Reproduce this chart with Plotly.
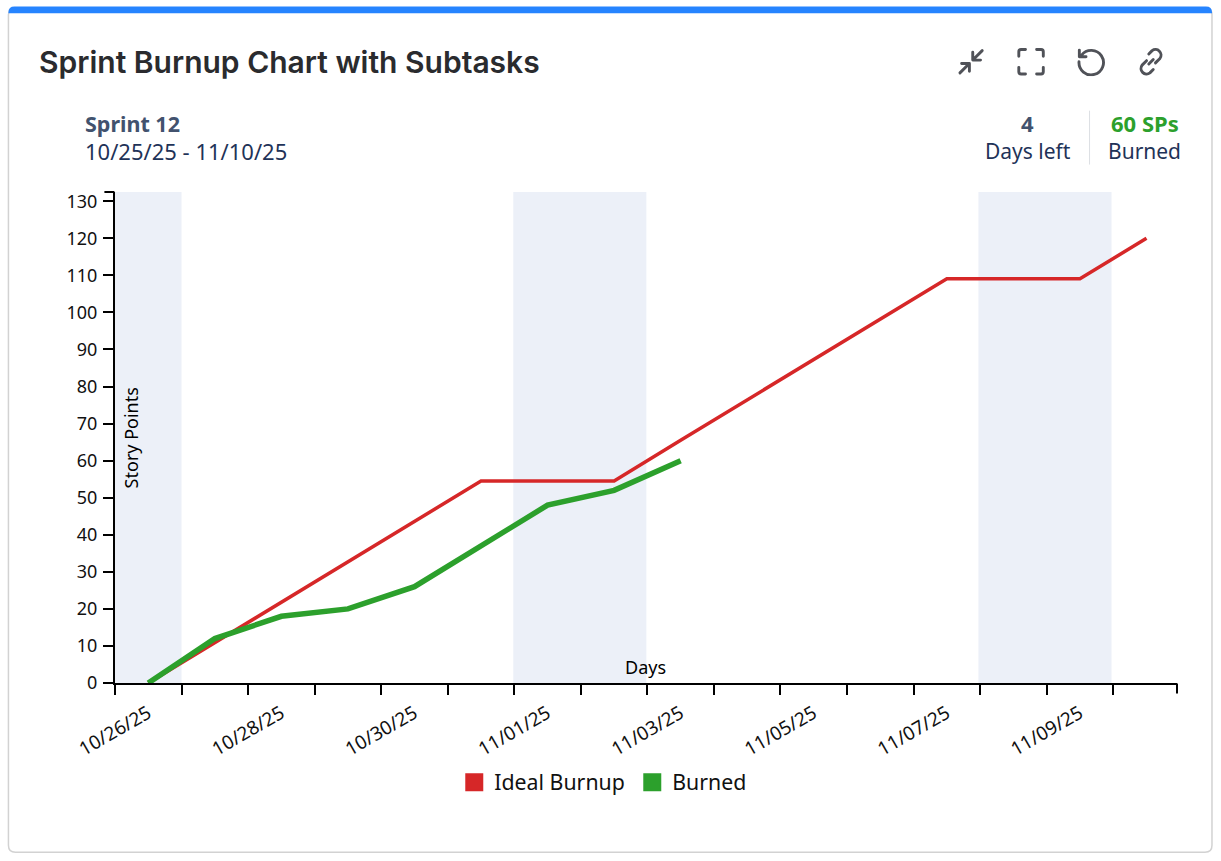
import base64
import plotly.graph_objects as go

days = ["2025-10-26 12:00", "2025-10-27 12:00", "2025-10-28 12:00", "2025-10-29 12:00",
        "2025-10-30 12:00", "2025-10-31 12:00", "2025-11-01 12:00", "2025-11-02 12:00",
        "2025-11-03 12:00", "2025-11-04 12:00", "2025-11-05 12:00", "2025-11-06 12:00",
        "2025-11-07 12:00", "2025-11-08 12:00", "2025-11-09 12:00", "2025-11-10 12:00"]
ideal = [0, 10.9, 21.8, 32.7, 43.6, 54.5, 54.5, 54.5, 65.5, 76.4, 87.3, 98.2, 109.1, 109.1, 109.1, 120]
burned = [0, 12, 18, 20, 26, 37, 48, 52, 60]
weekends = [("2025-10-26 00:00", "2025-10-27 00:00"),
            ("2025-10-31 23:38", "2025-11-02 23:38"),
            ("2025-11-07 23:23", "2025-11-09 23:23")]
RED, GREEN = "#d62728", "#2ca02c"
FONT = "Noto Sans"

W, H = 1221, 861
L, R, T, B = 114.6, 1177, 191.5, 683.5
px = lambda x: (x - L) / (R - L)
py = lambda y: (B - y) / (B - T)


def rrect(x0, y0, x1, y1, r):
    c = lambda x, y: f"{px(x)} {py(y)}"
    return (f"M {c(x0 + r, y0)} L {c(x1 - r, y0)} Q {c(x1, y0)} {c(x1, y0 + r)} "
            f"L {c(x1, y1 - r)} Q {c(x1, y1)} {c(x1 - r, y1)} L {c(x0 + r, y1)} "
            f"Q {c(x0, y1)} {c(x0, y1 - r)} L {c(x0, y0 + r)} Q {c(x0, y0)} {c(x0 + r, y0)} Z")


def topbar(x0, y0, x1, y1, r):
    c = lambda x, y: f"{px(x)} {py(y)}"
    return (f"M {c(x0, y1)} L {c(x0, y0 + r)} Q {c(x0, y0)} {c(x0 + r, y0)} "
            f"L {c(x1 - r, y0)} Q {c(x1, y0)} {c(x1, y0 + r)} L {c(x1, y1)} Z")


fig = go.Figure()
fig.add_trace(go.Scatter(x=days, y=ideal, mode="lines", showlegend=False,
                         line=dict(color=RED, width=3.5), hoverinfo="skip"))
fig.add_trace(go.Scatter(x=days[:len(burned)], y=burned, mode="lines", showlegend=False,
                         line=dict(color=GREEN, width=5.5), hoverinfo="skip"))
for name, col in (("Ideal Burnup", RED), ("Burned", GREEN)):
    fig.add_trace(go.Scatter(x=[None], y=[None], mode="markers", name=name,
                             marker=dict(symbol="square", size=16, color=col,
                                         line=dict(color=col, width=2))))

shapes = [
    dict(type="path", xref="paper", yref="paper", path=rrect(8, 7, 1212, 853, 7),
         fillcolor="#ffffff", line=dict(color="#d2d2d2", width=1.5), layer="below"),
    dict(type="path", xref="paper", yref="paper", path=topbar(8, 5.5, 1212, 12.5, 6),
         fillcolor="#2684ff", line=dict(width=0), layer="below"),
    dict(type="line", xref="paper", yref="paper", x0=px(1089.5), x1=px(1089.5), y0=py(110), y1=py(164),
         line=dict(color="#dcdfe4", width=1)),
    dict(type="line", xref="paper", yref="paper", x0=px(104), x1=px(114), y0=1, y1=1,
         line=dict(color="#000", width=2)),
    dict(type="line", xref="paper", yref="paper", x0=1, x1=1, y0=py(684), y1=py(694),
         line=dict(color="#000", width=2)),
]
for a, b in weekends:
    shapes.append(dict(type="rect", xref="x", yref="paper", x0=a, x1=b, y0=0, y1=1,
                       fillcolor="#ecf0f8", line=dict(width=0), layer="below"))


def note(x, y, text, size=22, color="#172b4d", anchor="left", weight=400, angle=0, family=FONT):
    return dict(xref="paper", yref="paper", x=px(x), y=py(y), text=text, showarrow=False,
                xanchor=anchor, yanchor="middle", textangle=angle,
                font=dict(family=family, size=size, color=color, weight=weight))


annotations = [
    note(37, 61, "Sprint Burnup Chart with Subtasks", size=30, color="#2a2b2e", weight=600, family="Inter"),
    note(83, 123, "Sprint 12", size=21.5, color="#42526e", weight=700),
    note(83, 150.5, "10/25/25 - 11/10/25", size=22, color="#1f3358"),
    note(1027.5, 122.5, "4", color="#42526e", weight=700, anchor="center"),
    note(1027.5, 150.5, "Days left", size=21, color="#1f3358", anchor="center"),
    note(1145, 122.5, "60 SPs", color=GREEN, weight=700, anchor="center"),
    note(1144.5, 150.5, "Burned", size=21, color="#1f3358", anchor="center"),
    note(131, 438, "Story Points", size=18, color="#000", anchor="center", angle=-90),
    note(645.5, 667, "Days", size=18, color="#000", anchor="center"),
]

ICONS = {
    971: '<path d="M3 23 L11 15 M4.5 14.5 H11.5 V21.5 M23 3 L15 11 M14.5 4.5 V11.5 H21.5"/>',
    1031: '<path d="M2 8 V4 Q2 2 4 2 H8 M18 2 H22 Q24 2 24 4 V8 M24 18 V22 Q24 24 22 24 H18 M8 24 H4 Q2 24 2 22 V18"/>',
    1091: '<path d="M4.5 7 A11 11 0 1 1 2.2 13 M2.5 2.5 V8.5 H8.5"/>',
    1151: '<path d="M11 15 L15 11 M9 12 L5 16 A5 5 0 0 0 12 23 L15 20 M17 14 L21 10 A5 5 0 0 0 14 3 L11 6"/>',
}
images = []
for cx, body in ICONS.items():
    svg = ('<svg xmlns="http://www.w3.org/2000/svg" width="26" height="26" viewBox="0 0 26 26">'
           '<g fill="none" stroke="#505258" stroke-width="2.6" stroke-linecap="round" stroke-linejoin="round">'
           + body + '</g></svg>')
    src = "data:image/svg+xml;base64," + base64.b64encode(svg.encode()).decode()
    images.append(dict(source=src, xref="paper", yref="paper", x=px(cx - 14.5), y=py(46.5), sizex=29 / (R - L),
                       sizey=29 / (B - T), xanchor="left", yanchor="top", layer="above"))

fig.update_layout(
    width=W, height=H, autosize=False,
    margin=dict(l=L, r=W - R, t=T, b=H - B),
    paper_bgcolor="#ffffff", plot_bgcolor="rgba(0,0,0,0)",
    font=dict(family=FONT, size=18, color="#000"),
    shapes=shapes, annotations=annotations, images=images,
    showlegend=True,
    legend=dict(orientation="h", x=px(454), y=py(783), xanchor="left", yanchor="middle",
                entrywidth=133, entrywidthmode="pixels",
                font=dict(family=FONT, size=21.3, color="#111"), bgcolor="rgba(0,0,0,0)"),
    xaxis=dict(type="date", range=["2025-10-26 00:00", "2025-11-10 23:00"],
               showgrid=False, zeroline=False, showline=True, linecolor="#000", linewidth=2,
               tick0="2025-10-26", dtick=2 * 86400000, tickformat="%m/%d/%y",
               ticks="outside", ticklen=10, tickwidth=2, tickcolor="#000",
               tickangle=-30, ticklabelshift=33, ticklabelstandoff=0,
               tickfont=dict(family=FONT, size=19, color="#111"),
               minor=dict(dtick=86400000, tick0="2025-10-26", ticks="outside", ticklen=10,
                          tickwidth=1.5, tickcolor="#000", showgrid=False)),
    yaxis=dict(range=[0, 132.5], dtick=10, tick0=0,
               showgrid=False, zeroline=False, showline=True, linecolor="#000", linewidth=2,
               ticks="outside", ticklen=10, tickwidth=2, tickcolor="#000", ticklabelstandoff=2,
               tickfont=dict(family=FONT, size=18, color="#111")),
)

fig.write_html("out.html", config={"displayModeBar": False},
               post_script="document.body.style.margin='0';document.body.style.overflow='hidden';")
